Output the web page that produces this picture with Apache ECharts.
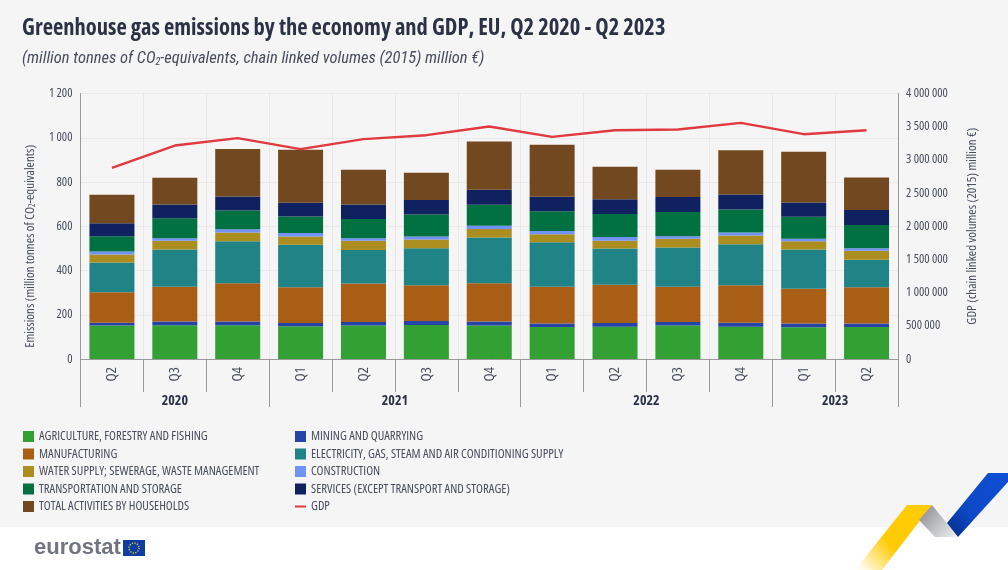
<!DOCTYPE html>
<html>
<head>
<meta charset="utf-8">
<style>
  html, body { margin: 0; padding: 0; background: #fff; }
  #chart { width: 1008px; height: 570px; }
</style>
<script src="https://cdn.jsdelivr.net/npm/echarts@6/dist/echarts.min.js"></script>
</head>
<body>
<div id="chart"></div>
<script>
const quarters = ['Q2', 'Q3', 'Q4', 'Q1', 'Q2', 'Q3', 'Q4', 'Q1', 'Q2', 'Q3', 'Q4', 'Q1', 'Q2'];
const years = ['2020', '2021', '2022', '2023'];
const yearBounds = [0, 3, 7, 11, 13];

const agriculture = [151, 152, 152, 148, 151, 154, 151, 145, 146, 151, 146, 143, 145];
const mining = [13, 17, 18, 15, 16, 18, 18, 16, 17, 16, 18, 17, 16];
const manufacturing = [138, 157, 172, 161, 174, 161, 173, 165, 173, 159, 169, 158, 163];
const electricity = [134, 169, 190, 192, 152, 168, 207, 202, 163, 178, 186, 177, 125];
const water = [36, 39, 40, 38, 41, 39, 39, 36, 36, 39, 39, 37, 40];
const construction = [14, 12, 15, 15, 12, 14, 14, 14, 16, 12, 14, 12, 12];
const transport = [69, 90, 84, 75, 87, 99, 95, 90, 104, 109, 104, 99, 105];
const services = [59, 62, 63, 62, 65, 66, 68, 65, 67, 68, 68, 64, 68];
const households = [128, 121, 215, 240, 157, 123, 218, 235, 147, 123, 199, 230, 146];
const gdp = [2879000, 3216000, 3327000, 3161000, 3312000, 3372000, 3503000, 3347000, 3447000, 3457000, 3558000, 3387000, 3447000];

const stacked = [
  ['AGRICULTURE, FORESTRY AND FISHING', agriculture, '#33a033'],
  ['MINING AND QUARRYING', mining, '#2644a7'],
  ['MANUFACTURING', manufacturing, '#a95e16'],
  ['ELECTRICITY, GAS, STEAM AND AIR CONDITIONING SUPPLY', electricity, '#208486'],
  ['WATER SUPPLY; SEWERAGE, WASTE MANAGEMENT', water, '#ac8e20'],
  ['CONSTRUCTION', construction, '#6f93f8'],
  ['TRANSPORTATION AND STORAGE', transport, '#027142'],
  ['SERVICES (EXCEPT TRANSPORT AND STORAGE)', services, '#0f225f'],
  ['TOTAL ACTIVITIES BY HOUSEHOLDS', households, '#71481f']
];

// the weight string ends up in the canvas font shorthand, that's how we get the condensed face
const cond = 'condensed';
const boldCond = 'bold condensed';
const face = '"Open Sans", "Roboto Condensed", sans-serif';
const subFace = '"Roboto Condensed", sans-serif';
const inkDark = '#2b3245';
const ink = '#474d5c';
const axisGray = '#9a9a9a';
const spaced = v => String(v).replace(/\B(?=(\d{3})+(?!\d))/g, ' ');

const legendBase = {
  orient: 'vertical', itemWidth: 11, itemHeight: 11, itemGap: 4.5, padding: 0,
  textStyle: { fontFamily: face, fontWeight: cond, fontSize: 12.7, color: ink }
};
const legendItem = name => ({ name, icon: 'rect' });

const chart = echarts.init(document.getElementById('chart'), null, { renderer: 'canvas' });
chart.setOption({
  animation: false,
  backgroundColor: '#f5f5f5',
  title: [
    {
      text: 'Greenhouse gas emissions by the economy and GDP, EU, Q2 2020 - Q2 2023',
      left: 17, top: 12,
      textStyle: { fontFamily: face, fontSize: 22.5, fontWeight: boldCond, color: inkDark }
    },
    {
      text: '{i|(million tonnes of CO}{s|2}{i|-equivalents, chain linked volumes (2015) million €)}',
      left: 17, top: 45,
      textStyle: {
        rich: {
          i: { fontFamily: subFace, fontSize: 16.5, fontStyle: 'italic', fontWeight: 'normal', color: ink },
          s: { fontFamily: subFace, fontSize: 10, fontStyle: 'italic', fontWeight: 'normal', color: ink, padding: [7, 0, 0, 0] }
        }
      }
    }
  ],
  legend: [
    { ...legendBase, left: 23, top: 430, data: [stacked[0][0], stacked[2][0], stacked[4][0], stacked[6][0], stacked[8][0]].map(legendItem) },
    {
      ...legendBase, left: 294, top: 430,
      data: [legendItem(stacked[1][0]), legendItem(stacked[3][0]), legendItem(stacked[5][0]), legendItem(stacked[7][0]),
        { name: 'GDP', itemStyle: { opacity: 0 } }]
    }
  ],
  grid: { left: 80.5, right: 110, top: 93.5, height: 265.5 },
  xAxis: [
    {
      type: 'category', data: quarters, position: 'bottom',
      axisLine: { lineStyle: { color: axisGray, width: 1 } },
      axisTick: { show: true, length: 33, lineStyle: { color: axisGray, width: 1 } },
      splitLine: { show: true, lineStyle: { color: '#dcdcdc', type: 'dotted' } },
      axisLabel: { rotate: 90, margin: 8, interval: 0, fontFamily: face, fontWeight: cond, fontSize: 15, color: ink }
    },
    {
      type: 'value', min: 0, max: 13, position: 'bottom',
      axisLine: { show: false },
      splitLine: { show: false },
      axisTick: { show: true, length: 48, customValues: yearBounds, lineStyle: { color: axisGray, width: 1 } },
      axisLabel: {
        show: true, margin: 35, hideOverlap: false, showMinLabel: true, showMaxLabel: true,
        customValues: years.map((y, i) => (yearBounds[i] + yearBounds[i + 1]) / 2),
        formatter: v => years[yearBounds.findIndex((b, i) => (b + yearBounds[i + 1]) / 2 === v)],
        fontFamily: face, fontSize: 14, fontWeight: boldCond, color: inkDark
      }
    }
  ],
  yAxis: [
    {
      type: 'value', min: 0, max: 1200, interval: 200,
      axisLine: { show: true, lineStyle: { color: axisGray, width: 1 } },
      axisTick: { show: false },
      splitLine: { lineStyle: { color: '#dcdcdc', type: 'dotted' } },
      axisLabel: { margin: 8, formatter: spaced, fontFamily: face, fontWeight: cond, fontSize: 12.5, color: ink },
      name: '{t|Emissions (million tonnes of CO}{s|2}{t|-equivalents)}',
      nameLocation: 'middle', nameGap: 44, nameRotate: 90,
      nameTextStyle: {
        padding: [0, 40, 0, 0],
        rich: {
          t: { fontFamily: face, fontWeight: cond, fontSize: 13, color: ink },
          s: { fontFamily: face, fontWeight: cond, fontSize: 8, color: ink, padding: [5, 0, 0, 0] }
        }
      }
    },
    {
      type: 'value', min: 0, max: 4000000, interval: 500000, position: 'right',
      axisLine: { show: true, lineStyle: { color: axisGray, width: 1 } },
      axisTick: { show: false },
      splitLine: { show: false },
      axisLabel: { margin: 8, formatter: spaced, fontFamily: face, fontWeight: cond, fontSize: 12.5, color: ink },
      name: 'GDP (chain linked volumes (2015) million €)',
      nameLocation: 'middle', nameGap: 68, nameRotate: 90,
      nameTextStyle: { fontFamily: face, fontWeight: cond, fontSize: 13, color: ink }
    }
  ],
  series: [
    ...stacked.map(([name, data, color]) => ({
      name, type: 'bar', stack: 'emissions', data, barWidth: 45,
      itemStyle: { color }
    })),
    {
      name: 'GDP', type: 'line', yAxisIndex: 1, data: gdp,
      symbol: 'none', z: 5,
      lineStyle: { color: '#e0393e', width: 2.4 },
      itemStyle: { color: '#e0393e' }
    }
  ],
  graphic: [
    // white footer band
    { type: 'rect', z: -1, shape: { x: 0, y: 527, width: 1008, height: 43 }, style: { fill: '#fff' } },
    // eurostat logo
    { type: 'text', x: 34, y: 537, style: { text: 'eurostat', font: 'bold 22px "Liberation Sans", sans-serif', fill: '#71757f' } },
    { type: 'rect', shape: { x: 123, y: 540, width: 22, height: 16 }, style: { fill: '#0e3f9e' } },
    { type: 'circle', shape: { cx: 134, cy: 548, r: 5 }, style: { fill: 'none', stroke: '#e8c93a', lineWidth: 1.4, lineDash: [1.2, 1.4] } },
    // corner ribbon
    {
      type: 'polygon', shape: { points: [[907, 505], [932, 505], [882, 570], [855, 570]] },
      style: { fill: new echarts.graphic.LinearGradient(0.75, 0.3, 0.1, 1, [{ offset: 0, color: '#ffcb05' }, { offset: 0.45, color: '#ffcb05' }, { offset: 1, color: '#fffdf2' }]) }
    },
    {
      type: 'polygon', shape: { points: [[932, 505], [958, 537], [935, 537], [919, 520]] },
      style: { fill: new echarts.graphic.LinearGradient(0, 0, 1, 1, [{ offset: 0, color: '#85878c' }, { offset: 1, color: '#f2f2f3' }]) }
    },
    {
      type: 'polygon', shape: { points: [[988, 473], [1008, 473], [1008, 482], [958, 537], [947, 523]] },
      style: { fill: new echarts.graphic.LinearGradient(1, 0, 0, 1, [{ offset: 0, color: '#0f4fd6' }, { offset: 0.65, color: '#0d47c4' }, { offset: 1, color: '#062a85' }]) }
    }
  ]
});
</script>
</body>
</html>
